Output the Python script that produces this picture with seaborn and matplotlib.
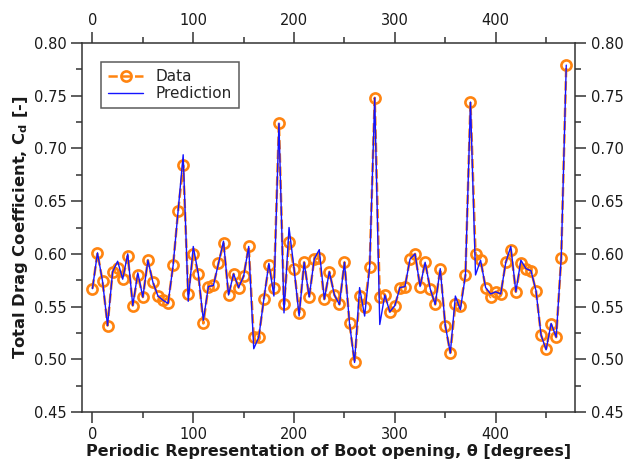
import numpy as np
import pandas as pd
import matplotlib
matplotlib.use("Agg")
import matplotlib.pyplot as plt
from matplotlib.ticker import MultipleLocator, FormatStrFormatter
import seaborn as sns

# Boot opening angle, degrees (5-degree steps)
theta = list(range(0, 475, 5))

# Measured total drag coefficient
cd_data = [
    0.567, 0.601, 0.574, 0.532, 0.583, 0.587, 0.576, 0.598, 0.551, 0.580,
    0.559, 0.594, 0.573, 0.560, 0.556, 0.553, 0.589, 0.641, 0.684, 0.562,
    0.600, 0.581, 0.534, 0.569, 0.570, 0.591, 0.610, 0.561, 0.581, 0.568,
    0.579, 0.607, 0.521, 0.521, 0.557, 0.589, 0.568, 0.724, 0.552, 0.611,
    0.586, 0.544, 0.592, 0.559, 0.595, 0.596, 0.557, 0.583, 0.561, 0.552,
    0.592, 0.534, 0.497, 0.560, 0.550, 0.588, 0.748, 0.559, 0.561, 0.545,
    0.551, 0.568, 0.569, 0.595, 0.600, 0.569, 0.592, 0.567, 0.552, 0.586,
    0.532, 0.506, 0.552, 0.551, 0.580, 0.744, 0.600, 0.594, 0.568, 0.559,
    0.564, 0.562, 0.592, 0.604, 0.564, 0.591, 0.586, 0.584, 0.565, 0.523,
    0.510, 0.533, 0.521, 0.596, 0.779,
]

# Model prediction of the total drag coefficient
cd_pred = [
    0.567, 0.601, 0.574, 0.532, 0.583, 0.593, 0.576, 0.600, 0.551, 0.582,
    0.559, 0.594, 0.573, 0.560, 0.556, 0.553, 0.589, 0.641, 0.694, 0.555,
    0.607, 0.581, 0.537, 0.569, 0.570, 0.591, 0.612, 0.561, 0.581, 0.568,
    0.579, 0.607, 0.510, 0.521, 0.557, 0.591, 0.560, 0.724, 0.544, 0.625,
    0.586, 0.541, 0.592, 0.559, 0.595, 0.604, 0.557, 0.583, 0.561, 0.552,
    0.592, 0.534, 0.497, 0.568, 0.541, 0.588, 0.748, 0.533, 0.561, 0.545,
    0.551, 0.568, 0.569, 0.595, 0.600, 0.569, 0.592, 0.567, 0.552, 0.586,
    0.532, 0.506, 0.560, 0.547, 0.580, 0.744, 0.580, 0.594, 0.568, 0.562,
    0.564, 0.562, 0.592, 0.607, 0.564, 0.594, 0.586, 0.584, 0.565, 0.523,
    0.509, 0.534, 0.521, 0.596, 0.779,
]

df = pd.DataFrame({"theta": theta, "data": cd_data, "pred": cd_pred})

sns.set_style("ticks")
plt.rcParams["font.family"] = ["DejaVu Sans"]

fig = plt.figure(figsize=(6.24, 4.70), dpi=100)
ax = fig.add_axes([0.132, 0.1234, 0.790, 0.7851])

sns.lineplot(data=df, x="theta", y="data", ax=ax, color="#FF8410",
             linestyle="--", linewidth=1.8, marker="o", markersize=7.3,
             markerfacecolor="none", markeredgecolor="#FF8410",
             markeredgewidth=1.9, label="Data", zorder=2)
sns.lineplot(data=df, x="theta", y="pred", ax=ax, color="#1414FF",
             linewidth=1.0, label="Prediction", zorder=3)

ax.set_xlim(-10, 479)
ax.set_ylim(0.45, 0.80)
ax.xaxis.set_major_locator(MultipleLocator(100))
ax.xaxis.set_minor_locator(MultipleLocator(50))
ax.yaxis.set_major_locator(MultipleLocator(0.05))
ax.yaxis.set_minor_locator(MultipleLocator(0.025))
ax.yaxis.set_major_formatter(FormatStrFormatter("%.2f"))

ax.tick_params(which="both", direction="out", top=True, right=True,
               labeltop=True, labelright=True, color="#333333", width=1.1,
               labelsize=10.5, labelcolor="#1a1a1a", pad=3)
ax.tick_params(which="major", length=8)
ax.tick_params(which="minor", length=4.5)
for s in ax.spines.values():
    s.set_color("#333333")
    s.set_linewidth(1.1)

ax.set_xlabel("Periodic Representation of Boot opening, \u03b8 [degrees]",
              fontsize=11.5, fontweight="bold", labelpad=1, color="#1a1a1a")
ax.set_ylabel("Total Drag Coefficient, C$_\\mathregular{d}$ [-]",
              fontsize=11.8, fontweight="bold", labelpad=3, color="#1a1a1a")

leg = ax.legend(loc="upper left", bbox_to_anchor=(0.023, 0.969), fontsize=11,
                frameon=True, fancybox=False, edgecolor="#333333",
                handlelength=2.3, borderpad=0.45, labelspacing=0.15)
leg.get_frame().set_linewidth(1.1)

fig.savefig("out.png", dpi=100)
